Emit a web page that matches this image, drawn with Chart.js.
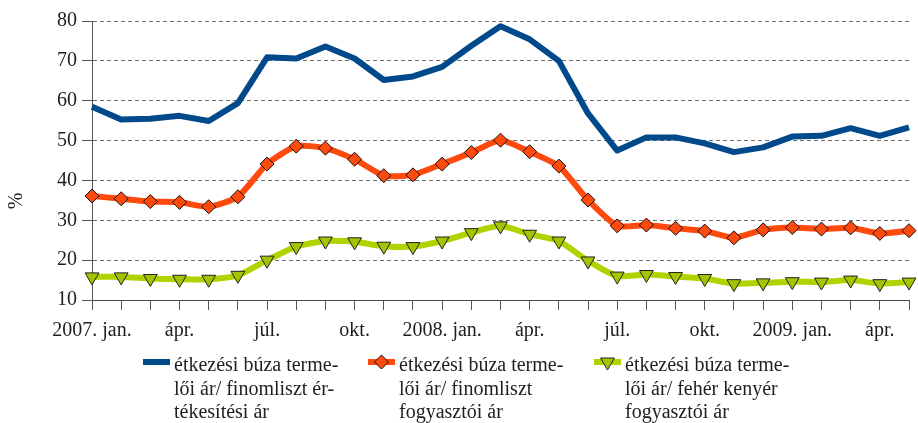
<!DOCTYPE html>
<html><head><meta charset="utf-8">
<script src="https://cdn.jsdelivr.net/npm/chart.js@4"></script>
<style>html,body{margin:0;padding:0;background:#fff;} #wrap{width:918px;height:423px;}</style>
</head><body><div id="wrap"><canvas id="c"></canvas></div>
<script>
const months = ['2007-01','2007-02','2007-03','2007-04','2007-05','2007-06','2007-07','2007-08','2007-09','2007-10','2007-11','2007-12',
  '2008-01','2008-02','2008-03','2008-04','2008-05','2008-06','2008-07','2008-08','2008-09','2008-10','2008-11','2008-12',
  '2009-01','2009-02','2009-03','2009-04','2009-05'];
const tickLabels = ['2007. jan.','','','ápr.','','','júl.','','','okt.','','','2008. jan.','','','ápr.','','','júl.','','','okt.','','','2009. jan.','','','ápr.',''];
const seriesNames = [
  'étkezési búza termelői ár/ finomliszt értékesítési ár',
  'étkezési búza termelői ár/ finomliszt fogyasztói ár',
  'étkezési búza termelői ár/ fehér kenyér fogyasztói ár'
];
const legendLines = [
  ['étkezési búza terme-','lői ár/ finomliszt ér-','tékesítési ár'],
  ['étkezési búza terme-','lői ár/ finomliszt','fogyasztói ár'],
  ['étkezési búza terme-','lői ár/ fehér kenyér','fogyasztói ár']
];
const flourSales = [58.5,55.3,55.5,56.2,54.9,59.4,70.9,70.6,73.6,70.6,65.2,66.1,68.5,73.8,78.7,75.4,70.0,56.8,
  47.5,50.8,50.8,49.3,47.1,48.3,51.0,51.2,53.1,51.2,53.3];
const flourConsumer = [36.1,35.4,34.7,34.5,33.4,35.9,44.1,48.6,48.1,45.3,41.2,41.4,44.1,47.0,50.1,47.2,43.6,35.1,
  28.6,28.8,28.0,27.3,25.6,27.6,28.2,27.8,28.1,26.7,27.4];
const breadConsumer = [15.8,15.8,15.4,15.2,15.2,16.2,20.0,23.4,24.8,24.6,23.5,23.4,24.8,26.9,28.6,26.5,24.8,19.8,
  16.0,16.4,15.9,15.4,14.1,14.3,14.6,14.5,15.0,14.1,14.5];
const yAxisTitle = '%';

const FONT = '"Liberation Serif", "DejaVu Serif", serif';
const TXT = '#1e1e1e';
const FS = 20;

const decor = {
  id: 'decor',
  afterDraw(chart) {
    const ctx = chart.ctx;
    ctx.save();
    ctx.font = FS + 'px ' + FONT;
    ctx.fillStyle = TXT;
    ctx.translate(17, 201);
    ctx.rotate(-Math.PI / 2);
    ctx.textAlign = 'center';
    ctx.textBaseline = 'middle';
    ctx.fillText(yAxisTitle, 0, 0);
    ctx.restore();

    const starts = [143, 368, 594];
    chart.data.datasets.forEach((ds, i) => {
      const x0 = starts[i], y0 = 362;
      ctx.save();
      ctx.strokeStyle = ds.borderColor;
      ctx.lineWidth = 6;
      ctx.beginPath(); ctx.moveTo(x0, y0); ctx.lineTo(x0 + 27, y0); ctx.stroke();
      if (ds.pointRadius > 0) {
        ctx.fillStyle = ds.pointBackgroundColor;
        ctx.strokeStyle = ds.pointBorderColor;
        ctx.lineWidth = 1;
        Chart.helpers.drawPoint(ctx, {pointStyle: ds.pointStyle, radius: ds.pointRadius, rotation: ds.pointRotation || 0, borderWidth: 1}, x0 + 13.5, y0);
      }
      ctx.font = FS + 'px ' + FONT;
      ctx.fillStyle = TXT;
      ctx.textAlign = 'left';
      ctx.textBaseline = 'middle';
      legendLines[i].forEach((t, k) => ctx.fillText(t, x0 + 31, 366 + k * 23.5));
      ctx.restore();
    });
  }
};

new Chart(document.getElementById('c'), {
  type: 'line',
  data: {
    labels: months,
    datasets: [
      {label: seriesNames[0], data: flourSales, borderColor: '#004A8C', borderWidth: 6, pointRadius: 0, tension: 0, borderJoinStyle: 'round'},
      {label: seriesNames[1], data: flourConsumer, borderColor: '#FF4A0E', borderWidth: 6, pointStyle: 'rectRot', pointRadius: 7,
        pointBackgroundColor: '#FF4A0E', pointBorderColor: '#111', pointBorderWidth: 1, tension: 0.2},
      {label: seriesNames[2], data: breadConsumer, borderColor: '#B2D200', borderWidth: 6, pointStyle: 'triangle', pointRotation: 180, pointRadius: 8,
        pointBackgroundColor: '#A4C400', pointBorderColor: '#222', pointBorderWidth: 1, tension: 0.2}
    ]
  },
  options: {
    responsive: true, maintainAspectRatio: false, animation: false, devicePixelRatio: 1,
    layout: {padding: {top: 21, right: 1, left: 0, bottom: 0}},
    plugins: {legend: {display: false}, tooltip: {enabled: false}},
    scales: {
      x: {
        offset: false,
        afterFit(s) { s.height = 123; },
        grid: {display: true, drawOnChartArea: false, drawTicks: true, tickLength: 10, tickColor: '#555', tickWidth: 1},
        border: {display: true, color: '#4a4a4a', width: 1},
        ticks: {autoSkip: false, maxRotation: 0, minRotation: 0, padding: 9, color: TXT, font: {family: FONT, size: FS},
          callback: (v, i) => tickLabels[i]}
      },
      y: {
        min: 10, max: 80,
        afterFit(s) { s.width = 92; },
        grid: {display: true, color: '#6e6e6e', lineWidth: 1, drawTicks: true, tickLength: 10, tickColor: '#555', tickWidth: 1},
        border: {display: true, color: '#555', width: 1, dash: [4, 3]},
        ticks: {stepSize: 10, padding: 5, color: TXT, font: {family: FONT, size: FS}}
      }
    }
  },
  plugins: [decor]
});
</script>
</body></html>
